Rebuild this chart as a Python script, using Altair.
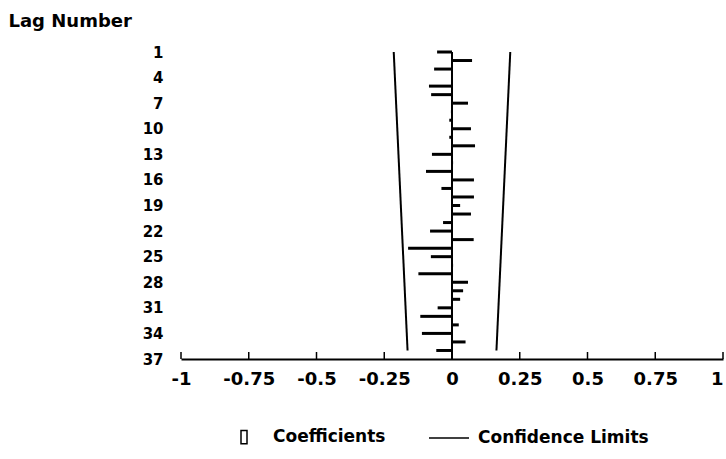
import altair as alt
import pandas as pd

# ---- data ----
lags = list(range(1, 37))
coefs = [-0.055, 0.074, -0.066, 0.003, -0.085, -0.077, 0.059, -0.004, -0.010, 0.070,
         -0.010, 0.085, -0.074, 0.004, -0.096, 0.081, -0.039, 0.081, 0.030, 0.070,
         -0.033, -0.081, 0.080, -0.162, -0.078, 0.004, -0.124, 0.059, 0.041, 0.030,
         -0.053, -0.117, 0.025, -0.111, 0.050, -0.058]
cl_lags = [1, 36]
cl_upper = [0.215, 0.164]
cl_lower = [-0.215, -0.164]
x_ticks = [-1, -0.75, -0.5, -0.25, 0, 0.25, 0.5, 0.75, 1]
y_ticks = [1, 4, 7, 10, 13, 16, 19, 22, 25, 28, 31, 34, 37]
lag_max = 37
series = ["Coefficients", "Confidence Limits"]

W, H = 542, 307
FONT = "DejaVu Sans"

coef_df = pd.DataFrame({"lag": lags, "coef": coefs, "base": 0.0, "series": series[0]})
cl_df = pd.concat([
    pd.DataFrame({"lag": cl_lags, "coef": cl_upper, "side": "upper", "series": series[1]}),
    pd.DataFrame({"lag": cl_lags, "coef": cl_lower, "side": "lower", "series": series[1]}),
])
zero_df = pd.DataFrame({"coef": [0.0], "lag": [min(lags)], "hi": [lag_max]})
tick_df = pd.DataFrame({"coef": x_ticks})
legend_df = pd.concat([coef_df[["lag", "coef", "series"]], cl_df[["lag", "coef", "series"]]])

xs = alt.Scale(domain=[-1, 1], nice=False, zero=False)
ys = alt.Scale(domain=[1, lag_max], reverse=True, nice=False, zero=False)
YT = "Lag Number"

x_axis = alt.Axis(
    values=x_ticks,
    labelExpr="datum.value == 0 ? '0' : (datum.value < 0 ? '-' + format(-datum.value, '~g') : format(datum.value, '~g'))",
    labelAlign={"condition": {"test": "datum.value >= 1", "value": "right"}, "value": "center"},
    ticks=False, grid=False, domain=True, domainColor="black", domainWidth=2,
    labelFont=FONT, labelFontSize=18, labelFontWeight="bold", labelColor="black",
    labelPadding=11, labelFlush=False, labelOverlap=False, title=None,
)
y_axis = alt.Axis(
    values=y_ticks, labelExpr="format(datum.value, 'd')", ticks=False, grid=False, domain=False,
    labelFont=FONT, labelFontSize=15, labelFontWeight="bold", labelColor="black",
    labelPadding=18, labelBaseline="middle", labelOverlap=False, labelBound=False,
    title=YT,
    titleAngle=0, titleX=-173, titleY=-26, titleAlign="left", titleBaseline="alphabetic",
    titleFont=FONT, titleFontSize=18, titleFontWeight="bold", titleColor="black",
)

X = lambda f: alt.X(f, scale=xs, axis=x_axis)
Y = lambda f: alt.Y(f, scale=ys, axis=y_axis)

bars = alt.Chart(coef_df).mark_rule(color="black", strokeWidth=3).encode(
    x=X("coef:Q"), x2="base:Q", y=Y("lag:Q"),
)

zero_line = alt.Chart(zero_df).mark_rule(color="black", strokeWidth=2).encode(
    x=X("coef:Q"), y=Y("lag:Q"), y2="hi:Q",
)

cl_lines = alt.Chart(cl_df).mark_line(color="black", strokeWidth=2).encode(
    x=X("coef:Q"), y=Y("lag:Q"), detail="side:N", order="lag:Q",
)

ticks = alt.Chart(tick_df).mark_rule(color="black", strokeWidth=1.5).encode(
    x=X("coef:Q"), y=alt.value(H), y2=alt.value(H - 7),
)

rect_sym = "M-0.15,-0.33L0.15,-0.33L0.15,0.33L-0.15,0.33Z"
line_sym = "M-1,0L1,0"
legend_layer = alt.Chart(legend_df).mark_point(filled=False, opacity=0).encode(
    x=X("coef:Q"),
    y=Y("lag:Q"),
    shape=alt.Shape(
        "series:N",
        scale=alt.Scale(domain=series, range=[rect_sym, line_sym]),
        legend=alt.Legend(
            title=None, orient="none", legendX=42, legendY=364, direction="horizontal",
            columnPadding=40, symbolSize=1600, symbolStrokeWidth=1.5,
            symbolStrokeColor="black", symbolFillColor="transparent", symbolOpacity=1,
            labelFont=FONT, labelFontSize=17, labelFontWeight="bold", labelColor="black",
            labelOffset=8, padding=0, labelLimit=300,
        ),
    ),
)

chart = (
    alt.layer(bars, zero_line, cl_lines, ticks, legend_layer)
    .properties(
        width=W, height=H,
        padding={"left": 181, "top": 52, "right": 3, "bottom": 100},
        autosize=alt.AutoSizeParams(type="none"),
        background="white",
    )
    .configure(font=FONT)
    .configure_view(stroke=None)
    .configure_axisY(labelOverlap=False, labelBound=False)
    .configure_axisX(labelOverlap=False)
)

chart.save("out.html", embed_options={"renderer": "svg", "actions": False})
